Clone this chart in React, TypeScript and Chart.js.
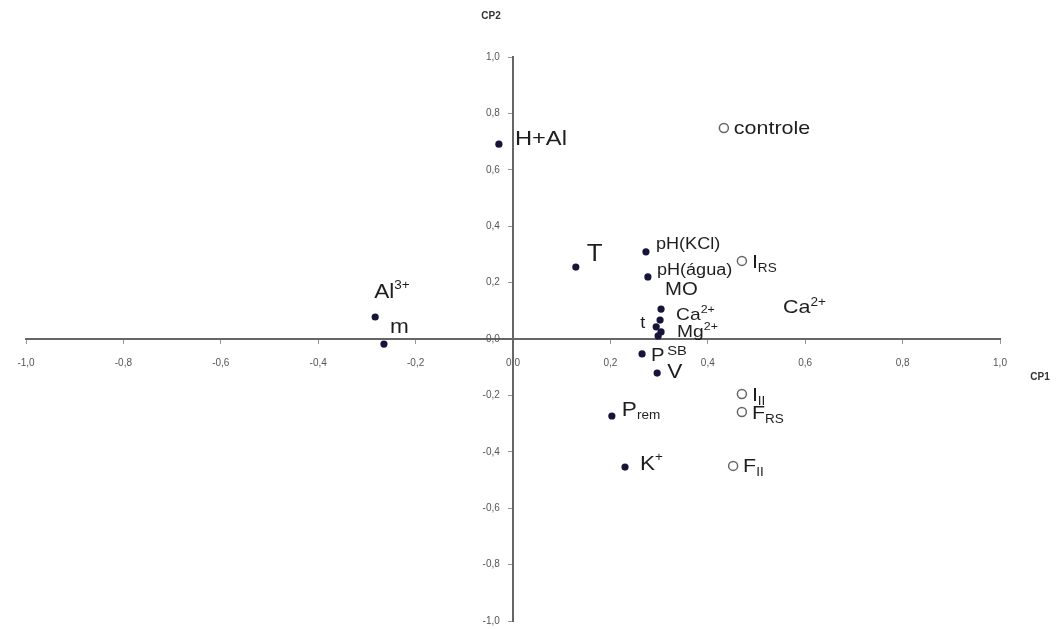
import React, { useEffect, useRef } from "react";
import { Chart, registerables } from "chart.js";

Chart.register(...registerables);

// ---- Data ----
// Variables (filled dots): CP1 / CP2 loadings
const variableNames = [
  "H+Al", "Al^{3+}", "m", "T", "pH(KCl)", "pH(água)", "MO", "Ca^{2+}", "t",
  "Mg^{2+}", "SB", "P", "V", "P_{rem}", "K^{+}",
];
const variableCP1 = [
  -0.029, -0.283, -0.265, 0.129, 0.273, 0.277, 0.304, 0.302, 0.294,
  0.304, 0.298, 0.265, 0.296, 0.203, 0.230,
];
const variableCP2 = [
  0.691, 0.078, -0.018, 0.255, 0.309, 0.220, 0.106, 0.067, 0.043,
  0.025, 0.011, -0.053, -0.121, -0.273, -0.454,
];

// Treatments (open circles)
const treatmentNames = ["controle", "I_{RS}", "Ca^{2+}", "I_{II}", "F_{RS}", "F_{II}"];
const treatmentCP1 = [0.433, 0.470, 0.534, 0.470, 0.470, 0.452];
const treatmentCP2 = [0.748, 0.277, 0.113, -0.195, -0.259, -0.450];

// Axis ticks
const tickValues = [-1.0, -0.8, -0.6, -0.4, -0.2, 0.0, 0.2, 0.4, 0.6, 0.8, 1.0];
const xAxisTitle = "CP1";
const yAxisTitle = "CP2";

// ---- Label styling (pixel offsets & font sizes, not data) ----
const variableLabelStyle: { dx: number; dy: number; size: number }[] = [
  { dx: 16, dy: -5, size: 21 },
  { dx: -1, dy: -25, size: 20 },
  { dx: 6, dy: -17, size: 20 },
  { dx: 11, dy: -12, size: 23 },
  { dx: 10, dy: -7, size: 16 },
  { dx: 9, dy: -6, size: 16 },
  { dx: 4, dy: -19, size: 18 },
  { dx: 16, dy: -5, size: 17 },
  { dx: -16, dy: -3, size: 16 },
  { dx: 16, dy: 0, size: 17 },
  { dx: 9, dy: 16, size: 13 },
  { dx: 9, dy: 2, size: 18 },
  { dx: 10, dy: -1, size: 20 },
  { dx: 10, dy: -6, size: 20 },
  { dx: 15, dy: -3, size: 20 },
];
const treatmentLabelStyle: { dx: number; dy: number; size: number }[] = [
  { dx: 10, dy: 1, size: 19 },
  { dx: 10, dy: 2, size: 19 },
  { dx: 10, dy: 1, size: 19 },
  { dx: 10, dy: 2, size: 19 },
  { dx: 10, dy: 2, size: 19 },
  { dx: 10, dy: 1, size: 19 },
];
const treatmentMarkerRadius = [4.5, 4.5, 0, 4.5, 4.5, 4.5];

const FONT = "'Liberation Sans', Arial, sans-serif";
const STRETCH = 1.13;

type Seg = { t: string; mode: "n" | "sub" | "sup" };

function parseRich(s: string): Seg[] {
  const out: Seg[] = [];
  const re = /([_^])\{([^}]*)\}/g;
  let last = 0;
  let m: RegExpExecArray | null;
  while ((m = re.exec(s))) {
    if (m.index > last) out.push({ t: s.slice(last, m.index), mode: "n" });
    out.push({ t: m[2], mode: m[1] === "_" ? "sub" : "sup" });
    last = m.index + m[0].length;
  }
  if (last < s.length) out.push({ t: s.slice(last), mode: "n" });
  return out;
}

function drawRich(ctx: CanvasRenderingContext2D, x: number, y: number, text: string, size: number) {
  const segs = parseRich(text);
  ctx.save();
  ctx.translate(x, y);
  ctx.scale(STRETCH, 1);
  ctx.fillStyle = "#1e1e1e";
  ctx.textAlign = "left";
  ctx.textBaseline = "middle";
  let cx = 0;
  for (const sg of segs) {
    const sz = sg.mode === "n" ? size : Math.round(size * 0.62);
    const oy = sg.mode === "sub" ? size * 0.3 : sg.mode === "sup" ? -size * 0.3 : 0;
    ctx.font = `${sz}px ${FONT}`;
    ctx.fillText(sg.t, cx, oy);
    cx += ctx.measureText(sg.t).width + (sg.mode === "n" ? 0 : 1);
  }
  ctx.restore();
}

const labelPlugin = {
  id: "pcaLabels",
  afterDatasetsDraw(chart: any) {
    const ctx: CanvasRenderingContext2D = chart.ctx;
    const vMeta = chart.getDatasetMeta(0);
    vMeta.data.forEach((pt: any, i: number) => {
      const st = variableLabelStyle[i];
      drawRich(ctx, pt.x + st.dx, pt.y + st.dy, variableNames[i], st.size);
    });
    const tMeta = chart.getDatasetMeta(1);
    tMeta.data.forEach((pt: any, i: number) => {
      const st = treatmentLabelStyle[i];
      drawRich(ctx, pt.x + st.dx, pt.y + st.dy, treatmentNames[i], st.size);
    });
    // axis titles
    const xs = chart.scales.x;
    const ys = chart.scales.y;
    ctx.save();
    ctx.fillStyle = "#333";
    ctx.font = `bold 10px ${FONT}`;
    ctx.textBaseline = "middle";
    ctx.textAlign = "center";
    ctx.fillText(yAxisTitle, xs.getPixelForValue(0) - 22, ys.top - 41);
    ctx.fillText(xAxisTitle, xs.right + 40, ys.getPixelForValue(0) + 38);
    ctx.restore();
  },
};

const fmt = (v: any) => Number(v).toFixed(1).replace(".", ",");
const setTicks = (s: any) => {
  s.ticks = tickValues.map((v) => ({ value: v }));
};

export default function App() {
  const ref = useRef<HTMLCanvasElement | null>(null);
  useEffect(() => {
    if (!ref.current) return;
    const chart = new Chart(ref.current, {
      type: "scatter",
      data: {
        datasets: [
          {
            label: "variáveis",
            data: variableCP1.map((x, i) => ({ x, y: variableCP2[i] })),
            pointRadius: 3.6,
            pointBackgroundColor: "#15153a",
            pointBorderColor: "#15153a",
            pointBorderWidth: 0,
          },
          {
            label: "tratamentos",
            data: treatmentCP1.map((x, i) => ({ x, y: treatmentCP2[i] })),
            pointRadius: treatmentMarkerRadius,
            pointBackgroundColor: "#ffffff",
            pointBorderColor: "#666666",
            pointBorderWidth: 1.5,
          },
        ],
      },
      options: {
        animation: false,
        responsive: false,
        events: [],
        layout: { padding: { left: 26, right: 60, top: 57, bottom: 8 } },
        plugins: { legend: { display: false }, tooltip: { enabled: false } },
        scales: {
          x: {
            type: "linear",
            min: -1,
            max: 1,
            position: { y: 0 } as any,
            afterBuildTicks: setTicks,
            ticks: {
              callback: fmt,
              font: { size: 10, family: FONT },
              color: "#555",
              padding: 14,
              maxRotation: 0,
              autoSkip: false,
            },
            grid: { drawOnChartArea: false, drawTicks: true, tickLength: 4, color: "#999" },
            border: { display: true, color: "#666", width: 2 },
          },
          y: {
            type: "linear",
            min: -1,
            max: 1,
            position: { x: 0 } as any,
            afterBuildTicks: setTicks,
            ticks: { display: false },
            grid: { drawOnChartArea: false, drawTicks: true, tickLength: 4, color: "#999" },
            border: { display: true, color: "#666", width: 2 },
          },
          yLabels: {
            type: "linear",
            axis: "y",
            min: -1,
            max: 1,
            position: { x: -0.027 } as any,
            afterBuildTicks: setTicks,
            ticks: {
              callback: fmt,
              font: { size: 10, family: FONT },
              color: "#555",
              padding: 0,
              autoSkip: false,
            },
            grid: { display: false, drawTicks: false, tickLength: 0 },
            border: { display: false },
          } as any,
        },
      },
      plugins: [labelPlugin],
    });
    return () => chart.destroy();
  }, []);
  return (
    <div style={{ position: "absolute", left: 0, top: 0, width: 1060, height: 629, background: "#fff" }}>
      <canvas ref={ref} width={1060} height={629} style={{ display: "block" }} />
    </div>
  );
}
